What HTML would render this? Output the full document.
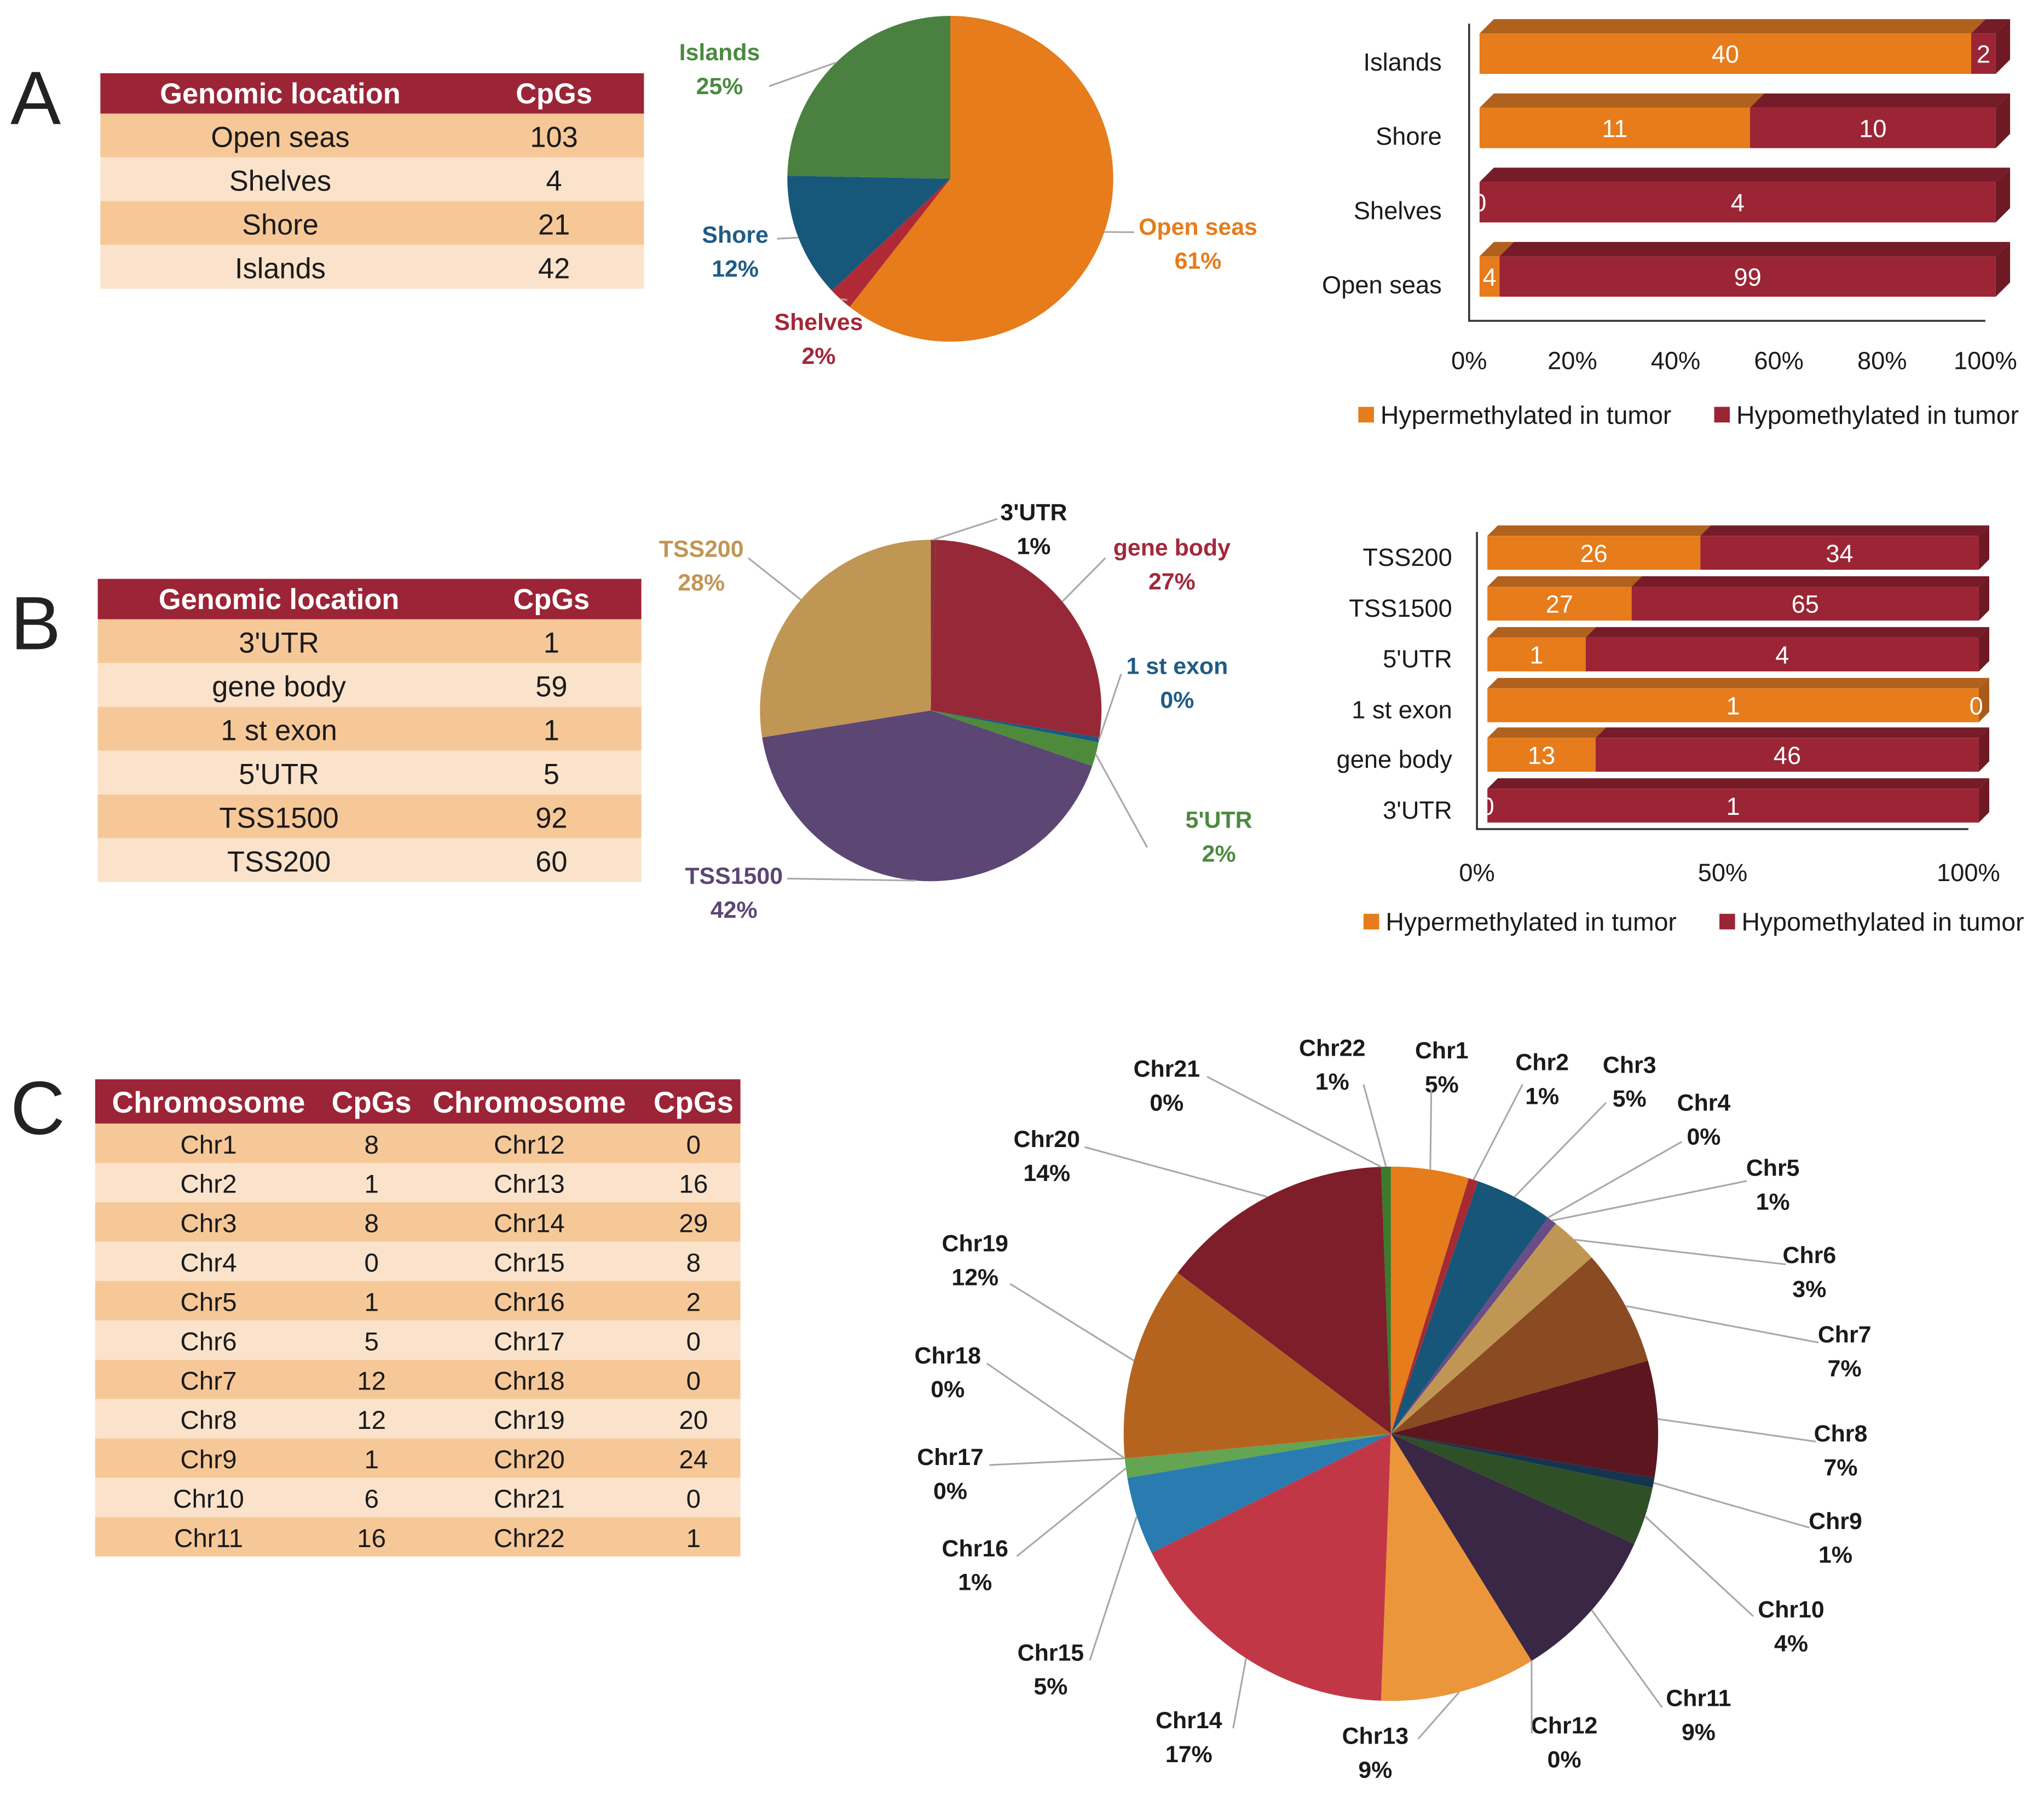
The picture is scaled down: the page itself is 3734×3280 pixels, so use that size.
<!DOCTYPE html>
<html><head><meta charset="utf-8"><style>
html,body{margin:0;padding:0;background:#fff}
svg{display:block}
text{font-family:"Liberation Sans",sans-serif}
</style></head><body>
<svg id="fig" xmlns="http://www.w3.org/2000/svg" width="3734" height="3280" viewBox="0 0 1568 1377">
<rect x="0" y="0" width="1568" height="1377" fill="#ffffff"/>
<text x="8" y="95" font-size="58" fill="#222">A</text>
<text x="8" y="498" font-size="58" fill="#222">B</text>
<text x="8" y="870" font-size="58" fill="#222">C</text>
<g id="layer"></g>
</svg>
<script>
// ---------- DATA ----------
const tableAHeader = ["Genomic location","CpGs"];
const tableARows = [["Open seas","103"],["Shelves","4"],["Shore","21"],["Islands","42"]];
const pieACats = ["Open seas","Shelves","Shore","Islands"];
const pieAVals = [103,4,21,42];
const pieAPct = ["61%","2%","12%","25%"];
const barACats = ["Islands","Shore","Shelves","Open seas"];
const barAHyper = [40,11,0,4];
const barAHypo = [2,10,4,99];
const barATicks = ["0%","20%","40%","60%","80%","100%"];

const tableBHeader = ["Genomic location","CpGs"];
const tableBRows = [["3'UTR","1"],["gene body","59"],["1 st exon","1"],["5'UTR","5"],["TSS1500","92"],["TSS200","60"]];
const pieBCats = ["3'UTR","gene body","1 st exon","5'UTR","TSS1500","TSS200"];
const pieBVals = [1,59,1,5,92,60];
const pieBPct = ["1%","27%","0%","2%","42%","28%"];
const barBCats = ["TSS200","TSS1500","5'UTR","1 st exon","gene body","3'UTR"];
const barBHyper = [26,27,1,1,13,0];
const barBHypo = [34,65,4,0,46,1];
const barBTicks = ["0%","50%","100%"];

const tableCHeader = ["Chromosome","CpGs","Chromosome","CpGs"];
const tableCRows = [["Chr1","8","Chr12","0"],["Chr2","1","Chr13","16"],["Chr3","8","Chr14","29"],["Chr4","0","Chr15","8"],["Chr5","1","Chr16","2"],["Chr6","5","Chr17","0"],["Chr7","12","Chr18","0"],["Chr8","12","Chr19","20"],["Chr9","1","Chr20","24"],["Chr10","6","Chr21","0"],["Chr11","16","Chr22","1"]];
const pieCCats = ["Chr1","Chr2","Chr3","Chr4","Chr5","Chr6","Chr7","Chr8","Chr9","Chr10","Chr11","Chr12","Chr13","Chr14","Chr15","Chr16","Chr17","Chr18","Chr19","Chr20","Chr21","Chr22"];
const pieCVals = [8,1,8,0,1,5,12,12,1,6,16,0,16,29,8,2,0,0,20,24,0,1];
const pieCPct = ["5%","1%","5%","0%","1%","3%","7%","7%","1%","4%","9%","0%","9%","17%","5%","1%","0%","0%","12%","14%","0%","1%"];

// ---------- STYLE/LAYOUT ----------
const NS="http://www.w3.org/2000/svg";
const layer=document.getElementById('layer');
const HDR="#9c2437", DARKROW="#f6c898", LIGHTROW="#fbe3cb";
const ORANGE="#e67c1b", RED="#9b2535";
function mk(tag,attrs,parent){const e=document.createElementNS(NS,tag);for(const k in attrs)e.setAttribute(k,attrs[k]);(parent||layer).appendChild(e);return e;}
function txt(x,y,s,size,fill,anchor,weight,parent){const t=mk('text',{x:x,y:y,'font-size':size,fill:fill,'text-anchor':anchor||'middle','font-weight':weight||'normal'},parent);t.textContent=s;return t;}

function table(x0,x1,y0,hh,rh,cols,header,rows,name,fs,hfs){
  const g=mk('g',{});
  
  
  const hr=mk('rect',{x:x0,y:y0,width:x1-x0,height:hh,fill:HDR},g);
  
  
  header.forEach((h,i)=>{const t=txt(cols[i],y0+hh*0.75,h,hfs,'#fff','middle','bold',g);
    
    });
  rows.forEach((r,j)=>{const y=y0+hh+j*rh;
    const rr=mk('rect',{x:x0,y:y,width:x1-x0,height:rh,fill:j%2==0?DARKROW:LIGHTROW},g);
    
    
    r.forEach((c,i)=>{const t=txt(cols[i],y+rh*0.76,c,fs,'#1a1a1a','middle','normal',g);
      
      });
  });
}
table(77,494,56,31,33.6,[215,425],tableAHeader,tableARows,'table-a',22,22);
table(75,492,444,31,33.6,[214,423],tableBHeader,tableBRows,'table-b',22,22);
table(73,568,828,34,30.2,[160,285,406,532],tableCHeader,tableCRows,'table-c',20,23);

function pt(cx,cy,r,a){return [cx+r*Math.sin(a),cy-r*Math.cos(a)];}
function pie(cx,cy,r,vals,colors,name,start){
  const tot=vals.reduce((a,b)=>a+b,0);let a=start||0;const mids=[];
  vals.forEach((v,i)=>{const da=v/tot*2*Math.PI;
    if(v>0){const p0=pt(cx,cy,r,a),p1=pt(cx,cy,r,a+da);
      const p=mk('path',{d:`M${cx},${cy}L${p0[0]},${p0[1]}A${r},${r} 0 ${da>Math.PI?1:0} 1 ${p1[0]},${p1[1]}Z`,fill:colors[i]});
      
      }
    mids.push(a+da/2);a+=da;});
  return mids;
}
function leader(pts,name){const l=mk('polyline',{points:pts.map(p=>p.join(',')).join(' '),fill:'none',stroke:'#a8a8a8','stroke-width':1.3});
  
  }
function label2(x,y,a,b,col,size,name){const t1=txt(x,y,a,size,col,'middle','bold');
  
  
  const t2=txt(x,y+26,b,size,col,'middle','bold');
  
  }

// Pie A
const colA=[ORANGE,"#b02a36","#17577a","#4a8040"];
const midA=pie(729,137,125,pieAVals,colA,'pie-a');
const labA=[[919,180,870,178],[628,253,650,230],[564,186,596,183],[552,46,590,66]];
const labColA=["#e67c1b","#a3283a","#1f5c85","#4a8a40"];
pieACats.forEach((c,i)=>{const L=labA[i];label2(L[0],L[1],c,pieAPct[i],labColA[i],18,'pie-a-'+c.toLowerCase().replace(/\W+/g,'-'));
  const e=pt(729,137,125,midA[i]);leader([[L[2],L[3]],e],'pie-a-leader');});

// Pie B
const colB=["#8a3030","#962838","#1a5a80","#4d8a3c","#5c4673","#c09655"];
const midB=pie(714,545,131,pieBVals,colB,'pie-b');
const labB=[[793,399,765,398],[899,426,848,428],[903,517,860,517],[935,635,880,650],[563,678,604,674],[538,427,574,428]];
const labColB=["#1a1a1a","#a3283a","#1f5c85","#4d8a3c","#5c4673","#c09655"];
pieBCats.forEach((c,i)=>{const L=labB[i];label2(L[0],L[1],c,pieBPct[i],labColB[i],18,'pie-b-'+c.toLowerCase().replace(/\W+/g,'-'));
  const e=pt(714,545,131,midB[i]);leader([[L[2],L[3]],e],'pie-b-leader');});

// Pie C
const colC=["#e67c1b","#a52a34","#175678","#555","#6a4c86","#c09655","#8a4a22","#5c1620","#15344f","#2f4f26","#3a2645","#777","#ec963c","#c23746","#2a7bb0","#63a552","#888","#888","#b5641f","#7d1e2a","#888","#3c7a2c"];
const cx=1067,cy=1100,rc=205;
const midC=pie(cx,cy,rc,pieCVals,colC,'pie-c');
const labC=[[1106,812],[1183,821],[1250,823],[1307,852],[1360,902],[1388,969],[1415,1030],[1412,1106],[1408,1173],[1374,1241],[1303,1309],[1200,1330],[1055,1338],[912,1326],[806,1274],[748,1194],[729,1124],[727,1046],[748,960],[803,880],[895,826],[1022,810]];
const ancC=[[1098,836],[1168,832],[1232,846],[1290,876],[1340,906],[1370,970],[1395,1030],[1393,1106],[1388,1172],[1345,1240],[1275,1310],[1175,1330],[1088,1334],[946,1326],[836,1274],[780,1194],[759,1124],[757,1046],[775,985],[832,880],[926,826],[1046,832]];
pieCCats.forEach((c,i)=>{const L=labC[i];label2(L[0],L[1],c,pieCPct[i],'#1a1a1a',18,'pie-c-'+c.toLowerCase());
  const e=pt(cx,cy,rc,midC[i]);leader([ancC[i],e],'pie-c-leader');});

// Bars
function bars(name,cats,hyper,hypo,ticks,x0,x1,yc,bh,axTop,axBot,tickY,legY,legX,catX,depth,catOff){
  const W=x1-x0;const xs=v=>x0+v*W;
  const ax0=x0-8, ax1=x1-8;
  const ax=mk('polyline',{points:`${ax0},${axTop} ${ax0},${axBot} ${ax1},${axBot}`,fill:'none',stroke:'#333','stroke-width':1.5});
  
  
  ticks.forEach((t,i)=>{const tt=txt(ax0+i*(ax1-ax0)/(ticks.length-1),tickY,t,19,'#1a1a1a','middle');
    
    });
  cats.forEach((c,i)=>{const y=yc[i]-bh/2,tot=hyper[i]+hypo[i];
    const f=hyper[i]/tot, mid=xs(f);
    const ct=txt(catX,yc[i]+catOff,c,19,'#1a1a1a','end');
    
    
    const t1=mk('polygon',{points:`${x0},${y} ${x0+depth},${y-depth} ${mid+depth},${y-depth} ${mid},${y}`,fill:'#b0611e'});
    
    
    const t2=mk('polygon',{points:`${mid},${y} ${mid+depth},${y-depth} ${x1+depth},${y-depth} ${x1},${y}`,fill:'#751c28'});
    
    
    const sd=mk('polygon',{points:`${x1},${y} ${x1+depth},${y-depth} ${x1+depth},${y+bh-depth} ${x1},${y+bh}`,fill:hypo[i]>0?'#6e1a24':'#a85a18'});
    
    
    const r1=mk('rect',{x:x0,y:y,width:mid-x0,height:bh,fill:ORANGE});
    
    
    const r2=mk('rect',{x:mid,y:y,width:x1-mid,height:bh,fill:RED});
    
    
    const l1=txt(hyper[i]>0?(x0+mid)/2:x0,yc[i]+7,String(hyper[i]),19,'#fff','middle');
    
    
    const l2=txt(hypo[i]>0?(mid+x1)/2:x1-2,yc[i]+7,String(hypo[i]),19,'#fff','middle');
    
    
  });
  const s1=mk('rect',{x:legX,y:legY-13,width:12,height:12,fill:ORANGE});
  
  
  const lt1=txt(legX+17,legY,'Hypermethylated in tumor',19.5,'#1a1a1a','start');
  
  
  const s2=mk('rect',{x:legX+273,y:legY-13,width:12,height:12,fill:RED});
  
  
  const lt2=txt(legX+290,legY,'Hypomethylated in tumor',19.5,'#1a1a1a','start');
  
  
}
bars('bar-a',barACats,barAHyper,barAHypo,barATicks,1135,1531,[41,98,155,212],31,18,246,283,325,1042,1106,11,13);
bars('bar-b',barBCats,barBHyper,barBHypo,barBTicks,1141,1518,[424,463,502,541,579,618],26,408,636,676,714,1046,1114,8,10);
</script>
</body></html>
